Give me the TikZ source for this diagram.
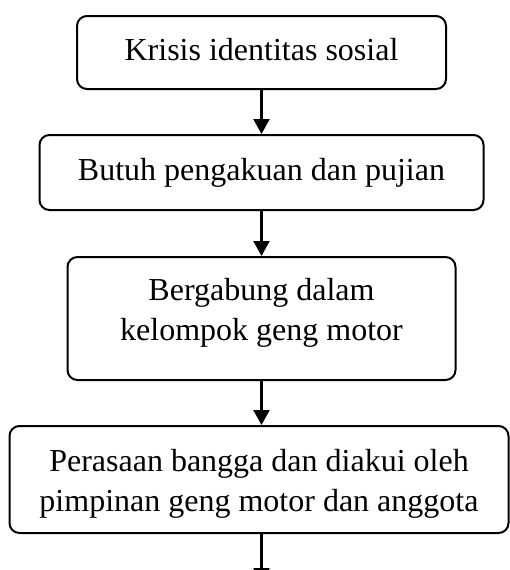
\documentclass[tikz,border=0pt]{standalone}
\usepackage{fontspec}
\setmainfont{Liberation Serif}
\usepackage{tikz}
\usetikzlibrary{arrows.meta}
\usetikzlibrary{positioning}

\tikzset{
  stepbox/.style={draw, line width=2pt, rounded corners=10pt, align=center,
    inner sep=0pt, font=\fontsize{32}{40}\selectfont},
  flowarrow/.style={line width=2.2pt, -{Triangle[length=15pt,width=16pt]}}
}

\begin{document}
\begin{tikzpicture}[x=1pt, y=1pt, node distance=44pt]
  \useasboundingbox (0,0) rectangle (510,-570);
  \node[stepbox, minimum width=369pt, minimum height=73pt, text height=22pt, text depth=7pt] (krisis) at (261.5,-52.5) {Krisis identitas sosial};
  \node[stepbox, minimum width=444pt, minimum height=75pt, text height=22pt, text depth=7pt, below=of krisis] (butuh) {Butuh pengakuan dan pujian};
  \node[stepbox, minimum width=388pt, minimum height=123pt, text height=62pt, text depth=19pt, below=45pt of butuh] (gabung) {Bergabung dalam\\kelompok geng motor};
  \node[stepbox, minimum width=499pt, minimum height=107pt, text height=70pt, text depth=7pt, below=of gabung, xshift=-2.5pt] (bangga) {Perasaan bangga dan diakui oleh\\pimpinan geng motor dan anggota};
  \coordinate[below=49pt of bangga.south, xshift=2.5pt] (lanjut);
  % arrows between the steps
  \draw[flowarrow] (krisis) -- (butuh);
  \draw[flowarrow] (butuh) -- (gabung);
  \draw[flowarrow] (gabung.south) -- (gabung.south |- bangga.north);
  \draw[flowarrow] (gabung.south |- bangga.south) -- (lanjut);
\end{tikzpicture}
\end{document}
